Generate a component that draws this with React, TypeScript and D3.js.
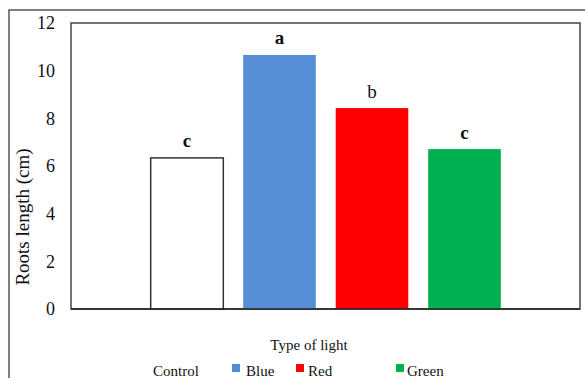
import React from "react";
import * as d3 from "d3";

const categories = ["Control", "Blue", "Red", "Green"];
const values = [6.34, 10.66, 8.43, 6.71];
const letters = ["c", "a", "b", "c"];
const letterBold = [true, true, false, true];
const colors = ["#FFFFFF", "#558ED5", "#FF0000", "#00B050"];
const yTicks = [0, 2, 4, 6, 8, 10, 12];

const W = 585;
const H = 378;
const plot = { left: 71, top: 23, right: 580, bottom: 309 };
const FONT = "Liberation Serif, Times New Roman, Times, serif";
const ts = { fontFamily: FONT };

export default function App() {
  const y = d3.scaleLinear().domain([0, 12]).range([plot.bottom, plot.top]);
  const x = d3
    .scaleBand<string>()
    .domain(categories)
    .range([140.75, 510.75])
    .paddingInner(0.215)
    .paddingOuter(0.1075);

  const legendX = [128, 232, 296, 396];
  const legendTextX = [153, 246, 308, 407];

  return (
    <svg
      width={W}
      height={H}
      viewBox={`0 0 ${W} ${H}`}
      style={{ position: "absolute", left: 0, top: 0, background: "#fff", fontFamily: FONT }}
    >
      <rect x={0} y={0} width={W} height={H} fill="#fff" />
      {/* outer frame */}
      <path d={`M9,${H + 2} V10 H${W + 2}`} fill="none" stroke="#555" strokeWidth={1.5} />
      {/* plot frame */}
      <rect
        x={plot.left}
        y={plot.top}
        width={plot.right - plot.left}
        height={plot.bottom - plot.top}
        fill="none"
        stroke="#444"
        strokeWidth={1.5}
      />
      {/* bars */}
      {categories.map((c, i) => {
        const bx = x(c)!;
        const bw = x.bandwidth();
        const top = y(values[i]);
        return (
          <g key={c}>
            <rect
              x={bx}
              y={top}
              width={bw}
              height={plot.bottom - top}
              fill={colors[i]}
              stroke={i === 0 ? "#333" : "none"}
              strokeWidth={i === 0 ? 1.5 : 0}
            />
            <text
              x={bx + bw / 2}
              y={top - 10.5}
              textAnchor="middle"
              fontSize={19}
              fontWeight={letterBold[i] ? "bold" : "normal"}
              fill="#111"
              style={ts}
            >
              {letters[i]}
            </text>
          </g>
        );
      })}
      {/* baseline */}
      <line x1={plot.left} x2={plot.right} y1={plot.bottom} y2={plot.bottom} stroke="#222" strokeWidth={1.5} />
      {/* y tick labels */}
      {yTicks.map((t) => (
        <text key={t} x={55} y={y(t)} dy="0.35em" textAnchor="end" fontSize={18} fill="#111" style={ts}>
          {t}
        </text>
      ))}
      {/* y title */}
      <text
        transform={`translate(29,217) rotate(-90)`}
        textAnchor="middle"
        fontSize={19}
        fill="#111"
        style={ts}
      >
        Roots length (cm)
      </text>
      {/* x title */}
      <text x={309} y={350} textAnchor="middle" fontSize={15} fill="#111" style={ts}>
        Type of light
      </text>
      {/* legend */}
      {categories.map((c, i) => (
        <g key={"lg" + c}>
          {i > 0 && <rect x={legendX[i]} y={364} width={8} height={8} fill={colors[i]} />}
          <text x={legendTextX[i]} y={376} fontSize={15} fill="#111" style={ts}>
            {c}
          </text>
        </g>
      ))}
    </svg>
  );
}
